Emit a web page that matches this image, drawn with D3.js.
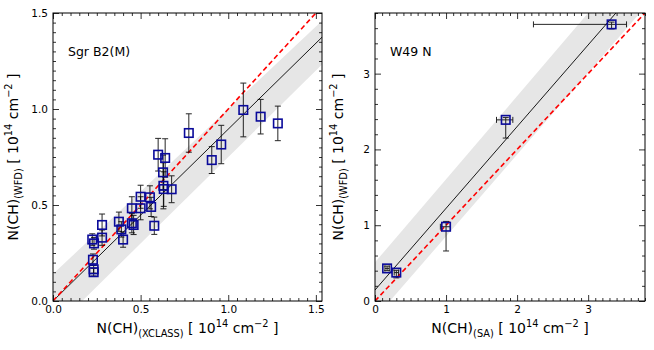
<!DOCTYPE html>
<html>
<head>
<meta charset="utf-8">
<script src="https://cdn.jsdelivr.net/npm/d3@7/dist/d3.min.js"></script>
<style>
  body { margin: 0; background: #ffffff; }
  text { font-family: "DejaVu Sans", sans-serif; fill: #000; }
</style>
</head>
<body>
<svg id="mainsvg" width="654" height="350"></svg>
<script>
// ---- Sgr B2(M): XCLASS vs WFD column densities (1e14 cm^-2) ----
const sgrX    = [0.224, 0.234, 0.228, 0.232, 0.232, 0.280, 0.280, 0.376, 0.390, 0.400,
                 0.450, 0.460, 0.450, 0.500, 0.500, 0.553, 0.560, 0.578, 0.600, 0.640,
                 0.628, 0.630, 0.632, 0.677, 0.775, 0.906, 0.960, 1.086, 1.185, 1.283];
const sgrY    = [0.320, 0.300, 0.215, 0.165, 0.150, 0.396, 0.330, 0.413, 0.373, 0.320,
                 0.405, 0.396, 0.483, 0.483, 0.543, 0.540, 0.490, 0.392, 0.762, 0.745,
                 0.670, 0.600, 0.583, 0.582, 0.875, 0.734, 0.815, 0.995, 0.960, 0.925];
const sgrYErr = [0.030, 0.030, 0.030, 0.020, 0.020, 0.057, 0.040, 0.050, 0.040, 0.040,
                 0.050, 0.050, 0.060, 0.060, 0.060, 0.060, 0.050, 0.045, 0.085, 0.100,
                 0.090, 0.120, 0.090, 0.070, 0.100, 0.070, 0.100, 0.140, 0.090, 0.090];

// ---- W49 N: SA vs WFD ----
const w49X      = [0.17, 0.30, 1.00, 1.84, 3.33];
const w49Y      = [0.43, 0.375, 0.98, 2.39, 3.65];
const w49XErrLo = [0.03, 0.03, 0.08, 0.13, 1.10];
const w49XErrHi = [0.03, 0.03, 0.06, 0.10, 0.21];
const w49YErrLo = [0.03, 0.07, 0.32, 0.24, 0.06];
const w49YErrHi = [0.03, 0.03, 0.07, 0.03, 0.03];

// fits and uncertainty band edges as [intercept, slope]
const sgrFit = [0.0, 0.895];
const sgrBandHi = [0.14, 0.86];
const sgrBandLo = [-0.15, 0.90];
const w49Fit = [0.145, 1.078];
const w49BandHi = [0.51, 1.097];
const w49BandLo = [-0.227, 1.08];

const svg = d3.select('#mainsvg');

const panels = [
  {
    id: 'sgr', left: 53, right: 322, top: 13, bottom: 301,
    xMax: 1.535, yMax: 1.5,
    majors: [0, 0.5, 1.0, 1.5], xMinor: 0.05, yMinor: 0.05, fmt: d3.format('.1f'),
    xs: sgrX, ys: sgrY,
    xlo: sgrX.map(() => 0), xhi: sgrX.map(() => 0), ylo: sgrYErr, yhi: sgrYErr,
    fit: sgrFit, bandHi: sgrBandHi, bandLo: sgrBandLo,
    name: 'Sgr B2(M)', sub: '(XCLASS)', ylabX: 18
  },
  {
    id: 'w49', left: 375, right: 645, top: 13, bottom: 301,
    xMax: 3.8, yMax: 3.8,
    majors: [0, 1, 2, 3], xMinor: 0.1, yMinor: 0.2, fmt: d3.format('d'),
    xs: w49X, ys: w49Y,
    xlo: w49XErrLo, xhi: w49XErrHi, ylo: w49YErrLo, yhi: w49YErrHi,
    fit: w49Fit, bandHi: w49BandHi, bandLo: w49BandLo,
    name: 'W49 N', sub: '(SA)', ylabX: 343
  }
];

const minorTicks = (max, step, majors) =>
  d3.range(0, max + 1e-9, step).filter(v => !majors.some(m => Math.abs(m - v) < 1e-6));

panels.forEach(p => {
  const x = d3.scaleLinear().domain([0, p.xMax]).range([p.left, p.right]);
  const y = d3.scaleLinear().domain([0, p.yMax]).range([p.bottom, p.top]);

  svg.append('clipPath').attr('id', 'clip-' + p.id)
    .append('rect')
    .attr('x', p.left).attr('y', p.top)
    .attr('width', p.right - p.left).attr('height', p.bottom - p.top);

  const g = svg.append('g').attr('clip-path', `url(#clip-${p.id})`);

  // grey band
  const line = (c, xv) => c[0] + c[1] * xv;
  const bandPts = [
    [0, line(p.bandHi, 0)], [p.xMax, line(p.bandHi, p.xMax)],
    [p.xMax, line(p.bandLo, p.xMax)], [0, line(p.bandLo, 0)]
  ];
  g.append('path')
    .attr('d', d3.line().x(d => x(d[0])).y(d => y(d[1]))(bandPts) + 'Z')
    .attr('fill', '#e6e6e6');

  // fit line
  g.append('line')
    .attr('x1', x(0)).attr('y1', y(line(p.fit, 0)))
    .attr('x2', x(p.xMax)).attr('y2', y(line(p.fit, p.xMax)))
    .attr('stroke', '#000').attr('stroke-width', 0.9);

  // one-to-one
  const m = Math.max(p.xMax, p.yMax);
  g.append('line')
    .attr('x1', x(0)).attr('y1', y(0)).attr('x2', x(m)).attr('y2', y(m))
    .attr('stroke', '#ff0000').attr('stroke-width', 1.6)
    .attr('stroke-dasharray', '5,3');

  // error bars
  const cap = 3;
  p.xs.forEach((xv, i) => {
    const yv = p.ys[i];
    const eb = g.append('g').attr('stroke', '#000').attr('stroke-width', 1).attr('opacity', 0.85);
    if (p.ylo[i] > 0 || p.yhi[i] > 0) {
      const y0 = y(yv - p.ylo[i]), y1 = y(yv + p.yhi[i]);
      eb.append('line').attr('x1', x(xv)).attr('x2', x(xv)).attr('y1', y0).attr('y2', y1);
      eb.append('line').attr('x1', x(xv) - cap).attr('x2', x(xv) + cap).attr('y1', y0).attr('y2', y0);
      eb.append('line').attr('x1', x(xv) - cap).attr('x2', x(xv) + cap).attr('y1', y1).attr('y2', y1);
    }
    if (p.xlo[i] > 0 || p.xhi[i] > 0) {
      const x0 = x(xv - p.xlo[i]), x1 = x(xv + p.xhi[i]);
      eb.append('line').attr('x1', x0).attr('x2', x1).attr('y1', y(yv)).attr('y2', y(yv));
      eb.append('line').attr('x1', x0).attr('x2', x0).attr('y1', y(yv) - cap).attr('y2', y(yv) + cap);
      eb.append('line').attr('x1', x1).attr('x2', x1).attr('y1', y(yv) - cap).attr('y2', y(yv) + cap);
    }
  });

  // open squares
  const s = 8.5;
  g.selectAll('rect.pt').data(p.xs).enter().append('rect')
    .attr('class', 'pt')
    .attr('x', d => x(d) - s / 2)
    .attr('y', (d, i) => y(p.ys[i]) - s / 2)
    .attr('width', s).attr('height', s)
    .attr('fill', 'none').attr('stroke', '#0a0a9a').attr('stroke-width', 1.6);

  // axes: inward ticks on all four sides
  const h = p.bottom - p.top, w = p.right - p.left;
  const mk = (axis, tr, labels, size, vals) => {
    const a = svg.append('g').attr('transform', tr)
      .call(axis.tickValues(vals).tickSize(-size).tickPadding(labels ? 5 : 0)
        .tickFormat(labels ? p.fmt : ''));
    a.select('.domain').remove();
    a.selectAll('line').attr('stroke', '#000').attr('stroke-width', 0.8);
    a.selectAll('text').attr('font-size', 10.5).attr('font-family', 'DejaVu Sans');
    return a;
  };
  const xMin = minorTicks(p.xMax, p.xMinor, p.majors);
  const yMin = minorTicks(p.yMax, p.yMinor, p.majors);
  mk(d3.axisBottom(x), `translate(0,${p.bottom})`, true, 6, p.majors);
  mk(d3.axisBottom(x), `translate(0,${p.bottom})`, false, 3, xMin);
  mk(d3.axisTop(x), `translate(0,${p.top})`, false, 6, p.majors);
  mk(d3.axisTop(x), `translate(0,${p.top})`, false, 3, xMin);
  mk(d3.axisLeft(y), `translate(${p.left},0)`, true, 6, p.majors);
  mk(d3.axisLeft(y), `translate(${p.left},0)`, false, 3, yMin);
  mk(d3.axisRight(y), `translate(${p.right},0)`, false, 6, p.majors);
  mk(d3.axisRight(y), `translate(${p.right},0)`, false, 3, yMin);

  svg.append('rect')
    .attr('x', p.left).attr('y', p.top).attr('width', w).attr('height', h)
    .attr('fill', 'none').attr('stroke', '#000').attr('stroke-width', 1);

  // panel name
  svg.append('text')
    .attr('x', x(0) + 15).attr('y', p.top + 43)
    .attr('font-size', 12.5)
    .text(p.name);

  // axis labels with sub/superscripts
  const fs = 14;
  const addLabel = (t, sub) => {
    t.append('tspan').text('N(CH)');
    t.append('tspan').attr('font-size', fs * 0.7).attr('dy', 4).text(sub);
    t.append('tspan').attr('dy', -4).text('\u00a0[ 10');
    t.append('tspan').attr('font-size', fs * 0.7).attr('dy', -6).text('14');
    t.append('tspan').attr('dy', 6).text('\u00a0cm');
    t.append('tspan').attr('font-size', fs * 0.7).attr('dy', -6).text('\u22122');
    t.append('tspan').attr('dy', 6).text('\u00a0]');
  };
  const xl = svg.append('text')
    .attr('x', (p.left + p.right) / 2).attr('y', 333)
    .attr('text-anchor', 'middle').attr('font-size', fs);
  addLabel(xl, p.sub);
  const yl = svg.append('text')
    .attr('transform', `translate(${p.ylabX},${(p.top + p.bottom) / 2}) rotate(-90)`)
    .attr('text-anchor', 'middle').attr('font-size', fs);
  addLabel(yl, '(WFD)');
});
</script>
</body>
</html>
